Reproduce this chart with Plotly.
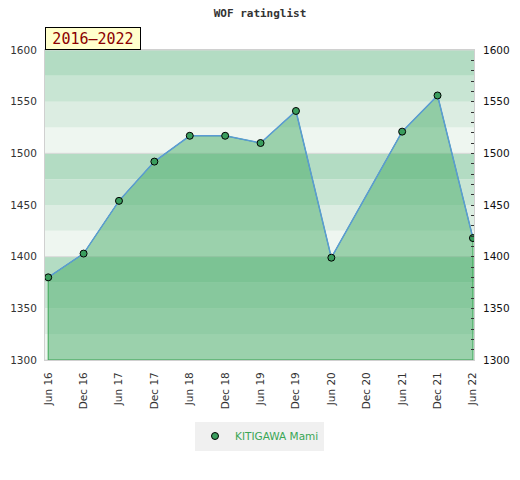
import plotly.graph_objects as go

categories = ["Jun 16", "Dec 16", "Jun 17", "Dec 17", "Jun 18", "Dec 18", "Jun 19",
              "Dec 19", "Jun 20", "Dec 20", "Jun 21", "Dec 21", "Jun 22"]
ratings = [1380, 1403, 1454, 1492, 1517, 1517, 1510, 1541, 1399, None, 1521, 1556, 1418]
player = "KITIGAWA Mami"
period_label = "2016\u20132022"
title_text = "WOF ratinglist"

y_min, y_max = 1300, 1600
band_colors = ["#eef6f0", "#dcede2", "#c8e5d3", "#b3dcc3"]  # bottom->top within each 100

xs = [c for c, v in zip(categories, ratings) if v is not None]
ys = [v for v in ratings if v is not None]

fig = go.Figure()

fig.add_trace(go.Scatter(
    x=xs + [xs[-1], xs[0], xs[0]],
    y=ys + [y_min, y_min, ys[0]],
    mode="lines", fill="toself",
    fillcolor="rgba(61,167,96,0.47)",
    line=dict(color="#3aa655", width=1),
    hoverinfo="skip", showlegend=False,
))
fig.add_trace(go.Scatter(
    x=xs, y=ys, mode="lines",
    line=dict(color="#5b9bd5", width=1.5),
    showlegend=False, hoverinfo="skip",
))
fig.add_trace(go.Scatter(
    x=xs, y=ys, mode="markers", name=player,
    marker=dict(color="#3a9d5d", size=7, line=dict(color="#000000", width=1)),
))
fig.add_trace(go.Scatter(x=[xs[0]], y=[ys[0]], yaxis="y2", mode="markers",
                         marker=dict(opacity=0), showlegend=False, hoverinfo="skip"))

shapes = []
i = 0
v = y_min
while v < y_max:
    shapes.append(dict(type="rect", xref="paper", x0=0, x1=1, yref="y", y0=v, y1=v + 25,
                       fillcolor=band_colors[i % 4], line=dict(width=0), layer="below"))
    v += 25
    i += 1

tick_font = dict(family="DejaVu Sans", size=10.5, color="#333333")

W, H = 504, 464
fig.update_layout(
    width=W, height=H,
    margin=dict(l=37, r=38, t=42, b=112, autoexpand=False),
    paper_bgcolor="white", plot_bgcolor="rgba(0,0,0,0)",
    shapes=shapes,
    title=dict(text=title_text, x=0.5, xanchor="center", y=1 - 5 / H, yanchor="middle",
               font=dict(family="DejaVu Sans Mono", size=11, color="#333333", weight="bold")),
    xaxis=dict(type="category", categoryorder="array", categoryarray=categories,
               range=[-0.09, 12.03], tickangle=-90, tickfont=tick_font, automargin=False,
               showgrid=False, showline=True, linecolor="#d0d0d0", mirror=True,
               ticks="", ticklabelstandoff=7, zeroline=False),
    yaxis=dict(range=[y_min, y_max], dtick=50, tickfont=tick_font, showgrid=False,
               showline=True, linecolor="#d0d0d0", mirror=True, ticks="", automargin=False,
               ticklabelstandoff=5, zeroline=False),
    yaxis2=dict(range=[y_min, y_max], dtick=50, overlaying="y", side="right", automargin=False,
                tickfont=dict(family="DejaVu Sans", size=10.5, color="#111111"),
                ticks="inside", ticklen=3, tickcolor="#333333", showgrid=False,
                minor=dict(dtick=10, ticks="inside", ticklen=3, tickcolor="#333333"),
                showline=False, zeroline=False, ticklabelstandoff=8),
    legend=dict(orientation="h", x=0.5, xanchor="center", y=-76 / 310, yanchor="middle",
                bgcolor="#f0f0f0", font=dict(family="DejaVu Sans", size=10.5, color="#3aa655")),
    annotations=[dict(text=period_label, xref="paper", yref="paper", x=0, y=1,
                      xanchor="left", yanchor="bottom", showarrow=False,
                      font=dict(family="DejaVu Sans Mono", size=15, color="#8b0000"),
                      bgcolor="#ffffcc", bordercolor="#000000", borderwidth=1,
                      borderpad=1, width=92, height=19)],
)

for g in range(y_min, y_max + 1, 100):
    fig.add_shape(type="line", xref="paper", x0=0, x1=1, yref="y", y0=g, y1=g,
                  line=dict(color="#d8d8d8", width=1), layer="below")

fig.write_html("out.html")
